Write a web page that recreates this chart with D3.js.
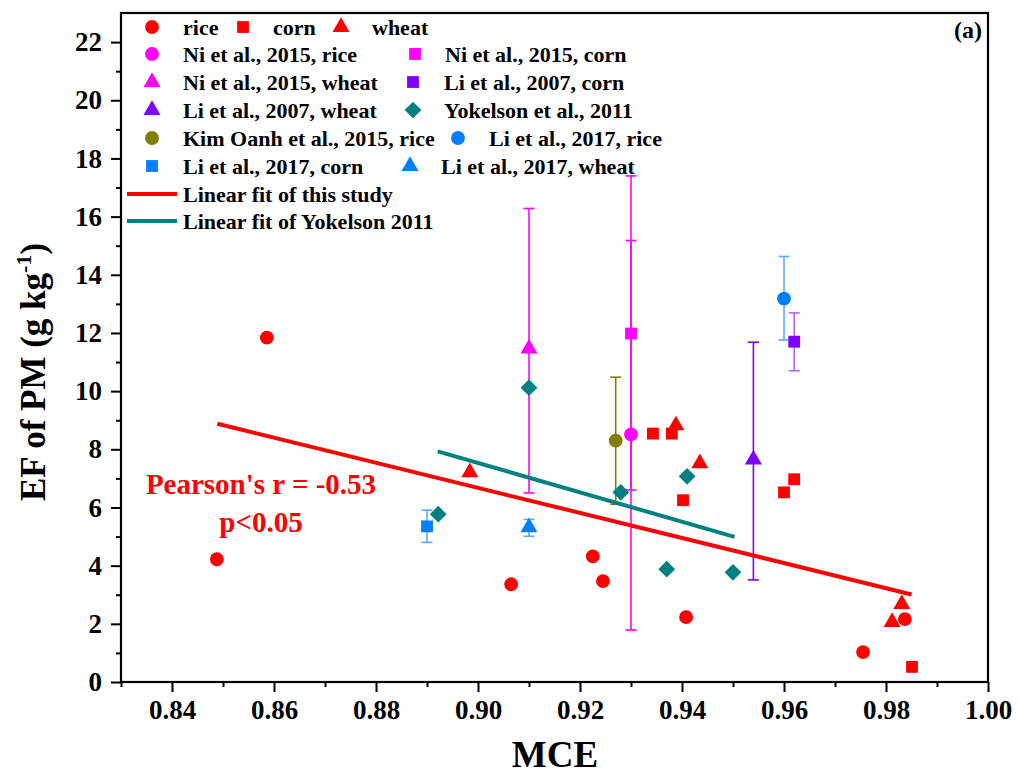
<!DOCTYPE html>
<html>
<head>
<meta charset="utf-8">
<script src="https://cdn.jsdelivr.net/npm/d3@7"></script>
<style>
  html, body { margin: 0; padding: 0; background: #fff; }
  svg text { font-family: "Liberation Serif", "Times New Roman", serif; font-weight: bold; }
</style>
</head>
<body>
<svg id="chart" width="1019" height="776"></svg>
<script>
// ---------------- DATA ----------------
// This study
const riceX  = [0.8586, 0.8488, 0.9065, 0.9225, 0.9245, 0.9408, 0.9755, 0.9837];
const riceY  = [11.84, 4.22, 3.36, 4.32, 3.47, 2.23, 1.03, 2.16];
const cornX  = [0.9343, 0.9380, 0.9402, 0.9600, 0.9620, 0.9851];
const cornY  = [8.54, 8.54, 6.25, 6.52, 6.97, 0.52];
const wheatX = [0.8984, 0.9388, 0.9435, 0.9831, 0.9812];
const wheatY = [7.21, 8.82, 7.52, 2.68, 2.06];
// Yokelson et al., 2011
const yokX = [0.8922, 0.9100, 0.9280, 0.9410, 0.9370, 0.9500];
const yokY = [5.77, 10.12, 6.52, 7.07, 3.88, 3.77];
// Literature values with error bars
const refLabels = ["Ni et al., 2015, rice", "Ni et al., 2015, corn", "Ni et al., 2015, wheat",
                   "Li et al., 2007, corn", "Li et al., 2007, wheat", "Kim Oanh et al., 2015, rice",
                   "Li et al., 2017, rice", "Li et al., 2017, corn", "Li et al., 2017, wheat"];
const refX  = [0.930, 0.930, 0.910, 0.962, 0.954, 0.927, 0.960, 0.890, 0.910];
const refY  = [8.51, 11.98, 11.46, 11.70, 7.65, 8.30, 13.18, 5.35, 5.32];
const refLo = [1.79, 6.60, 6.50, 10.70, 3.51, 6.11, 11.76, 4.80, 5.01];
const refHi = [17.40, 15.18, 16.28, 12.69, 11.68, 10.48, 14.63, 5.91, 5.59];
const refShape = ["circle", "square", "triangle", "square", "triangle", "circle", "circle", "square", "triangle"];
const refColor = ["#ff00ff", "#ff00ff", "#ff00ff", "#8000ff", "#8000ff", "#808000", "#0080ff", "#0080ff", "#0080ff"];
const refErrColor = ["#ff00ff", "#ff00ff", "#ff00ff", "#b366ff", "#8000ff", "#808000", "#5aaaff", "#5aaaff", "#5aaaff"];
// Linear fits (endpoints)
const fitStudyX = [0.8489, 0.9850];
const fitStudyY = [8.88, 3.01];
const fitYokX = [0.8921, 0.9503];
const fitYokY = [7.93, 4.99];
// Axis ticks
const xTicks = [0.84, 0.86, 0.88, 0.90, 0.92, 0.94, 0.96, 0.98, 1.00];
const yTicks = [0, 2, 4, 6, 8, 10, 12, 14, 16, 18, 20, 22];
const xMinor = [0.83, 0.85, 0.87, 0.89, 0.91, 0.93, 0.95, 0.97, 0.99];
const yMinor = [1, 3, 5, 7, 9, 11, 13, 15, 17, 19, 21];

// ---------------- LAYOUT ----------------
const svg = d3.select("#chart");
const L = 121, R = 988, T = 13, B = 682;
const x = d3.scaleLinear().domain([0.83, 1.00]).range([L, R]);
const y = d3.scaleLinear().domain([0, 23]).range([B, T]);

const symArea = { circle: 150, square: 140, triangle: 125, diamond: 140 };
function symPath(shape) {
  if (shape === "circle") return d3.symbol(d3.symbolCircle, symArea.circle)();
  if (shape === "square" || shape === "diamond") return d3.symbol(d3.symbolSquare, symArea.square)();
  return d3.symbol(d3.symbolTriangle, symArea.triangle)();
}
function drawSym(g, shape, cx, cy, color) {
  g.append("path")
    .attr("d", symPath(shape))
    .attr("transform", `translate(${cx},${cy})` + (shape === "diamond" ? " rotate(45)" : ""))
    .attr("fill", color);
}

// Axes
const xAxis = d3.axisBottom(x).tickValues(xTicks).tickFormat(d3.format(".2f")).tickSize(10).tickPadding(8);
const yAxis = d3.axisLeft(y).tickValues(yTicks).tickFormat(d3.format("d")).tickSize(10).tickPadding(9);

const gx = svg.append("g").attr("transform", `translate(0,${B})`).call(xAxis);
const gy = svg.append("g").attr("transform", `translate(${L},0)`).call(yAxis);
svg.append("g").attr("transform", `translate(0,${B})`)
  .call(d3.axisBottom(x).tickValues(xMinor).tickSize(5).tickFormat(""))
  .call(g => g.select(".domain").remove());
svg.append("g").attr("transform", `translate(${L},0)`)
  .call(d3.axisLeft(y).tickValues(yMinor).tickSize(5).tickFormat(""))
  .call(g => g.select(".domain").remove());
svg.selectAll(".tick line").attr("stroke", "#000").attr("stroke-width", 2);
gx.select(".domain").remove();
gy.select(".domain").remove();
gx.selectAll("text").attr("font-size", 27).attr("fill", "#000");
gy.selectAll("text").attr("font-size", 27).attr("fill", "#000");

// Frame
svg.append("rect").attr("x", L).attr("y", T).attr("width", R - L).attr("height", B - T)
  .attr("fill", "none").attr("stroke", "#000").attr("stroke-width", 2.2);

// Axis titles
svg.append("text").attr("x", 555).attr("y", 767).attr("text-anchor", "middle")
  .attr("font-size", 37).attr("fill", "#000").text("MCE");
const yl = svg.append("text").attr("transform", "translate(45,372) rotate(-90)")
  .attr("text-anchor", "middle").attr("font-size", 35).attr("fill", "#000");
yl.append("tspan").text("EF of PM (g kg");
yl.append("tspan").attr("font-size", 22).attr("dy", -14).text("-1");
yl.append("tspan").attr("dy", 14).text(")");

// Panel tag
svg.append("text").attr("x", 982).attr("y", 38).attr("text-anchor", "end")
  .attr("font-size", 24).attr("fill", "#000").text("(a)");

// Plot group
const plot = svg.append("g");

// Error bars
refLabels.forEach((lab, i) => {
  const g = plot.append("g");
  const cx = x(refX[i]);
  const cw = 5.5;
  g.append("line").attr("x1", cx).attr("x2", cx).attr("y1", y(refLo[i])).attr("y2", y(refHi[i]))
    .attr("stroke", refErrColor[i]).attr("stroke-width", 1.6);
  [refLo[i], refHi[i]].forEach(v => {
    g.append("line").attr("x1", cx - cw).attr("x2", cx + cw).attr("y1", y(v)).attr("y2", y(v))
      .attr("stroke", refErrColor[i]).attr("stroke-width", 1.6);
  });
});

// Fit lines
const line = d3.line().x(d => x(d[0])).y(d => y(d[1]));
plot.append("path").attr("d", line(d3.zip(fitStudyX, fitStudyY)))
  .attr("stroke", "#ff0000").attr("stroke-width", 4).attr("fill", "none");
plot.append("path").attr("d", line(d3.zip(fitYokX, fitYokY)))
  .attr("stroke", "#008080").attr("stroke-width", 4).attr("fill", "none");

// Points
riceX.forEach((v, i) => drawSym(plot, "circle", x(v), y(riceY[i]), "#ff0000"));
cornX.forEach((v, i) => drawSym(plot, "square", x(v), y(cornY[i]), "#ff0000"));
wheatX.forEach((v, i) => drawSym(plot, "triangle", x(v), y(wheatY[i]), "#ff0000"));
yokX.forEach((v, i) => drawSym(plot, "diamond", x(v), y(yokY[i]), "#008080"));
refLabels.forEach((lab, i) => drawSym(plot, refShape[i], x(refX[i]), y(refY[i]), refColor[i]));

// Pearson annotation
svg.append("text").attr("x", 261).attr("y", 494).attr("text-anchor", "middle")
  .attr("font-size", 29).attr("fill", "#ff0000").text("Pearson's r = -0.53");
svg.append("text").attr("x", 261).attr("y", 532).attr("text-anchor", "middle")
  .attr("font-size", 29).attr("fill", "#ff0000").text("p<0.05");

// Legend
const legendRows = [
  [{ label: "rice", shape: "circle", color: "#ff0000", sx: 152, tx: 183 },
   { label: "corn", shape: "square", color: "#ff0000", sx: 243, tx: 273 },
   { label: "wheat", shape: "triangle", color: "#ff0000", sx: 341, tx: 372 }],
  [{ ref: 0, sx: 152, tx: 183 }, { ref: 1, sx: 415, tx: 445 }],
  [{ ref: 2, sx: 152, tx: 183 }, { ref: 3, sx: 413, tx: 444 }],
  [{ ref: 4, sx: 152, tx: 183 }, { label: "Yokelson et al., 2011", shape: "diamond", color: "#008080", sx: 413, tx: 444 }],
  [{ ref: 5, sx: 152, tx: 183 }, { ref: 6, sx: 458, tx: 489 }],
  [{ ref: 7, sx: 152, tx: 183 }, { ref: 8, sx: 410, tx: 441 }],
  [{ label: "Linear fit of this study", shape: "line", color: "#ff0000", sx: 152, tx: 183 }],
  [{ label: "Linear fit of Yokelson 2011", shape: "line", color: "#008080", sx: 152, tx: 183 }]
];
const rowY = [27, 54, 82, 110, 138, 166, 194, 221];
const leg = svg.append("g");
legendRows.forEach((row, r) => {
  row.forEach(it => {
    const label = it.ref !== undefined ? refLabels[it.ref] : it.label;
    const shape = it.ref !== undefined ? refShape[it.ref] : it.shape;
    const color = it.ref !== undefined ? refColor[it.ref] : it.color;
    const cy = rowY[r];
    if (shape === "line") {
      leg.append("line").attr("x1", 127).attr("x2", 177).attr("y1", cy).attr("y2", cy)
        .attr("stroke", color).attr("stroke-width", 4);
    } else {
      drawSym(leg, shape, it.sx, cy, color);
    }
    leg.append("text").attr("x", it.tx).attr("y", cy + 7.5)
      .attr("font-size", 22).attr("fill", "#000").text(label);
  });
});
</script>
</body>
</html>
